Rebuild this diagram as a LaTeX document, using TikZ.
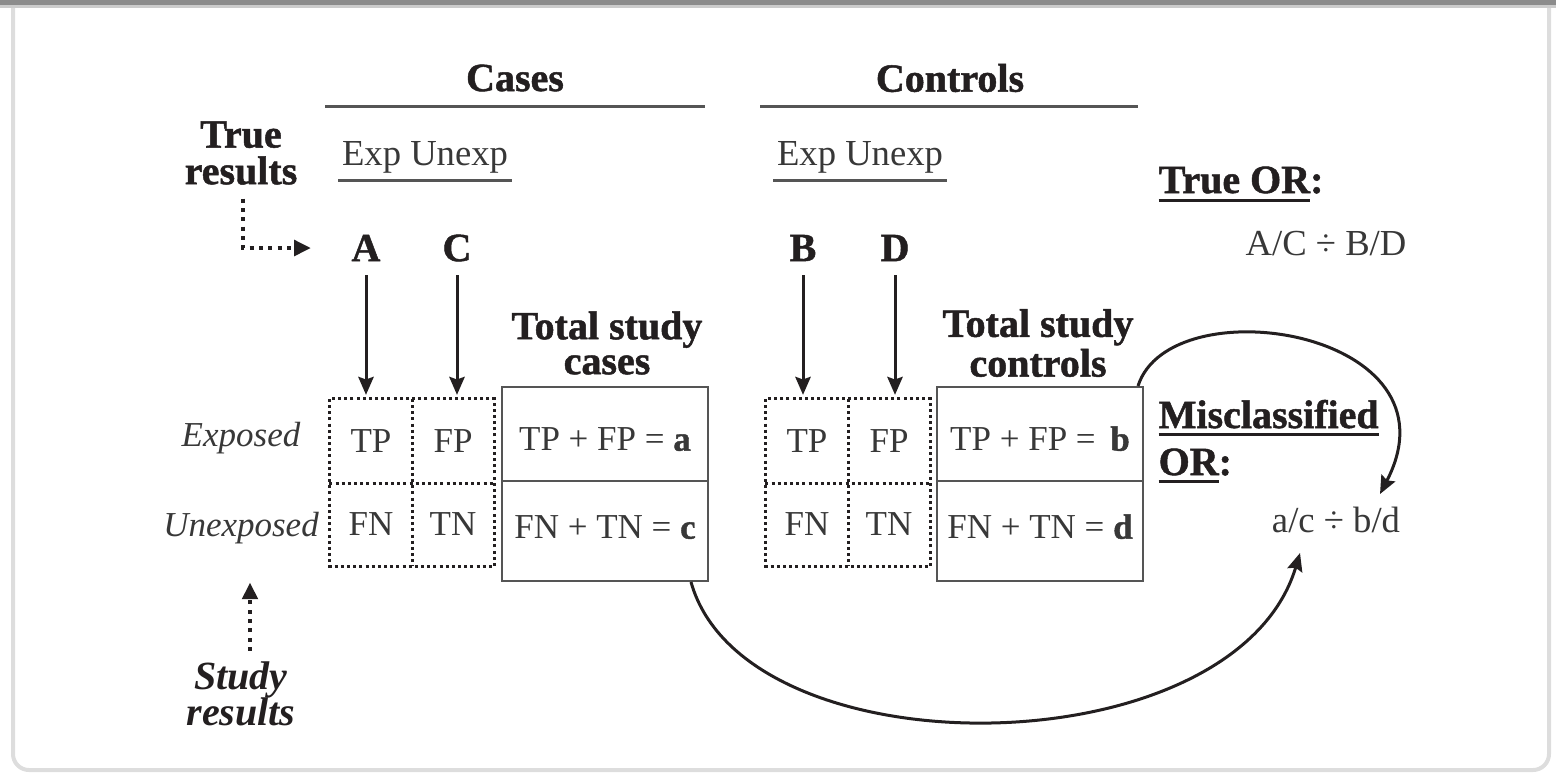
\documentclass[tikz,border=0pt]{standalone}
\usepackage{fontspec}
\setmainfont{Liberation Serif}[BoldFeatures={FakeBold=1.2}]
\usetikzlibrary{arrows.meta}
\newdimen\px \px=0.3pt
\newcommand\ulin[1]{\vtop{\hbox{#1}\kern1.5pt\hrule height0.9pt}}
\definecolor{ink}{HTML}{231F20}
\definecolor{txtgray}{HTML}{383838}
\definecolor{rulegray}{HTML}{555555}
\definecolor{topbar}{HTML}{8C8C8C}
\definecolor{framegray}{HTML}{DDDDDD}
\tikzset{
  head/.style={font=\fontsize{12}{10.5}\selectfont\bfseries, text=ink, align=center, inner sep=0pt},
  sidehead/.style={head, font=\fontsize{12}{11}\selectfont\bfseries},
  headit/.style={head, font=\fontsize{12}{11}\selectfont\bfseries\itshape},
  letter/.style={font=\fontsize{12}{12}\selectfont\bfseries, text=ink, inner sep=0pt},
  txt/.style={font=\fontsize{11}{13}\selectfont, text=txtgray, inner sep=0pt},
  lab/.style={font=\fontsize{10.5}{12}\selectfont\itshape, text=txtgray, inner sep=0pt},
  cell/.style={font=\fontsize{10.5}{12}\selectfont, text=txtgray, minimum width=82\px, minimum height=83\px, inner sep=0pt},
  sumbox/.style={draw=rulegray, line width=0.6pt, font=\fontsize{10.5}{12}\selectfont, text=txtgray, minimum width=206\px, inner sep=0pt},
  toprow/.style={sumbox, minimum height=94\px, text height=10pt, text depth=0pt},
  botrow/.style={sumbox, minimum height=100\px, text height=7pt, text depth=2.4pt},
  dots/.style={draw=ink, line width=0.9pt, dash pattern=on 0.9pt off 0.95pt},
  dotarr/.style={draw=ink, line width=1.2pt, dash pattern=on 1.2pt off 1.6pt, -{Triangle[length=5pt,width=4.6pt]}},
  arr/.style={draw=ink, line width=0.9pt, -{Stealth[length=5.4pt,width=4.6pt,inset=0.8pt]}},
  rule/.style={draw=rulegray, line width=0.9pt}
}
\begin{document}
\begin{tikzpicture}[x=0.3pt,y=-0.3pt]
\useasboundingbox (0,0) rectangle (1556,773);
% frame
\draw[framegray, line width=4\px, rounded corners=16\px] (13,0) -- (13,770) -- (1549,770) -- (1549,0);
\fill[black!20] (0,4) rectangle (1556,8);
\fill[topbar] (0,0) rectangle (1556,5);
% column heads
\node[head] (cases) at (515,78) {Cases};
\node[head] (ctrls) at (950,78) {Controls};
\draw[rule] (325,106) -- (705,106);
\draw[rule] (760,106) -- (1138,106);
\node[txt] (expca) at (425,157) {Exp Unexp};
\node[txt] (expco) at (860,157) {Exp Unexp};
\draw[rule] (338,180) -- (512,180);
\draw[rule] (773,180) -- (947,180);
\node[sidehead] (trueres) at (241,153) {True\\results};
% true counts
\node[letter] (A) at (366,248) {A};
\node[letter] (C) at (457,248) {C};
\node[letter] (B) at (803,248) {B};
\node[letter] (D) at (895,248) {D};
% dotted 2x2 grids
\foreach \g/\gx in {ca/371,co/807}{
  \node[cell] (\g TP) at (\gx,441) {TP};
  \node[cell] (\g FP) at (\gx+82,441) {FP};
  \node[cell] (\g FN) at (\gx,524) {FN};
  \node[cell] (\g TN) at (\gx+82,524) {TN};
  \draw[dots] (\g TP.north west) rectangle (\g TN.south east);
  \draw[dots] (\g TP.north east) -- (\g FN.south east);
  \draw[dots] (\g TP.south west) -- (\g FP.south east);
}
\foreach \l/\c in {A/caTP,C/caFP,B/coTP,D/coFP}
  \draw[arr, shorten <=4pt, shorten >=1.2pt] (\l) -- (\l |- \c.north);
% totals
\node[head] (totca) at (607,343) {Total study\\cases};
\node[head] (totco) at (1038,343) {Total study\\controls};
\node[toprow] (caA) at (605,434) {TP + FP = \textbf{a}};
\node[botrow] (caC) at (605,531) {FN + TN = \textbf{c}};
\node[toprow] (coB) at (1040,434) {TP + FP = \,\textbf{b}};
\node[botrow] (coD) at (1040,531) {FN + TN = \textbf{d}};
% row labels
\node[lab] (expo) at (241,438) {Exposed};
\node[lab] (unexp) at (241,528) {Unexposed};
\node[headit] (studyres) at (241,694) {Study\\results};
\draw[dotarr, shorten <=4pt, shorten >=12pt] ([xshift=2\px]trueres.south) |- (A);
\draw[dotarr, shorten <=3pt, shorten >=11.4pt] ([xshift=9\px]studyres.north) -- ([xshift=9\px]unexp.south);
% odds ratios
\node[head, anchor=base west] (trueor) at (1158,193) {\ulin{True OR}:};
\node[txt] (oddsT) at (1326,244) {A/C ÷ B/D};
\node[head, anchor=base west] (misor) at (1158,428) {\ulin{Misclassified}};
\node[head, anchor=base west] (misor2) at (1158,475) {\ulin{OR}:};
\node[txt] (oddsM) at (1336,520) {a/c ÷ b/d};
\coordinate (tipM) at (1380,494);
\coordinate (tipL) at (1300,553);
\draw[arr] ([xshift=-6\px]coB.north east) .. controls (1170,285) and (1465,330) .. (tipM);
\draw[arr] ([xshift=-18\px]caC.south east) .. controls (745,775) and (1235,770) .. (tipL);
\end{tikzpicture}
\end{document}
